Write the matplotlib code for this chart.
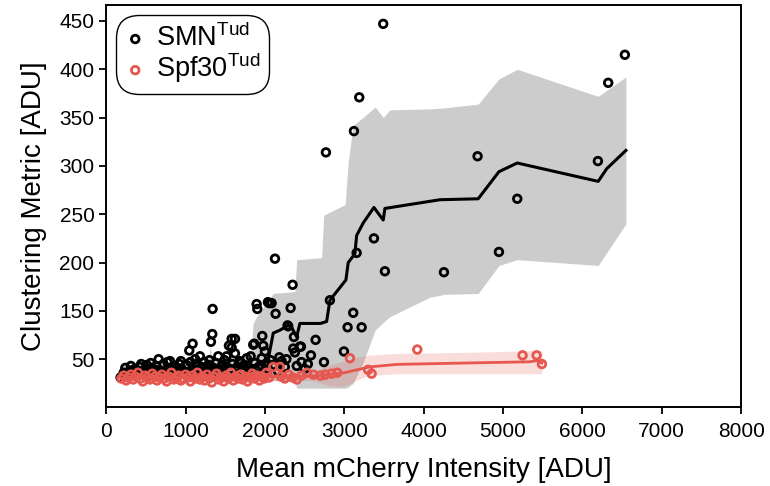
import matplotlib
matplotlib.use("Agg")
import matplotlib.pyplot as plt

# SMN Tudor domain: single cells
smn_x = [180, 220, 240, 260, 300, 310, 330, 360, 370, 390, 420, 440, 450, 480, 500, 510,
         540, 560, 570, 600, 620, 630, 660, 690, 700, 720, 750, 770, 780, 803, 830, 850,
         860, 890, 920, 940, 950, 980, 1010, 1030, 1046, 1060, 1088, 1100, 1120, 1130,
         1160, 1181, 1200, 1210, 1230, 1260, 1290, 1300, 1319, 1336, 1340, 1350, 1380,
         1400, 1411, 1430, 1460, 1480, 1490, 1517, 1546, 1560, 1580, 1580, 1590, 1622,
         1622, 1650, 1680, 1700, 1710, 1740, 1770, 1800, 1819, 1830, 1852, 1865, 1870,
         1895, 1903, 1920, 1950, 1958, 1966, 1978, 2000, 2021, 2037, 2040, 2054, 2070,
         2084, 2104, 2126, 2134, 2160, 2180, 2210, 2250, 2270, 2285, 2293, 2323, 2348,
         2356, 2365, 2377, 2400, 2440, 2453, 2460, 2500, 2540, 2579, 2638, 2743, 2768,
         2818, 2995, 3041, 3112, 3121, 3155, 3188, 3218, 3373, 3490, 3511, 4255, 4679,
         4948, 5179, 6195, 6325, 6535]
smn_y = [81, 86, 91, 84, 88, 93, 85, 90, 83, 87, 92, 95, 86, 89, 83, 94,
         87, 96, 91, 85, 89, 93, 100, 88, 84, 95, 86, 97, 91, 98, 89, 84,
         93, 87, 95, 98, 90, 86, 94, 85, 109, 97, 116, 90, 100, 95,
         88, 103, 92, 85, 97, 89, 94, 99, 118, 126, 152, 91, 96,
         86, 103, 88, 94, 90, 99, 103, 114, 90, 121, 112, 95, 121,
         106, 92, 98, 96, 88, 94, 101, 91, 103, 88, 115, 116, 96,
         157, 152, 92, 94, 101, 124, 114, 108, 96, 159, 90, 158, 99,
         158, 94, 204, 147, 88, 102, 98, 92, 100, 135, 134, 153, 177,
         111, 123, 107, 93, 113, 113, 97, 90, 95, 104, 120, 97, 314,
         161, 108, 133, 148, 336, 210, 371, 133, 225, 447, 191, 190, 310,
         211, 266, 305, 386, 415]

# Spf30 Tudor domain: single cells
spf_x = [190, 220, 250, 280, 310, 340, 370, 400, 430, 460, 490, 520, 550, 580, 610, 640,
         670, 700, 730, 760, 790, 820, 850, 880, 910, 940, 970, 1000, 1030, 1060, 1090,
         1120, 1150, 1180, 1210, 1240, 1270, 1300, 1330, 1360, 1390, 1420, 1450, 1480,
         1510, 1540, 1570, 1600, 1630, 1660, 1690, 1720, 1750, 1780, 1810, 1840, 1870,
         1900, 1930, 1960, 1990, 2020, 2050, 2104, 2188, 2200, 2250, 2300, 2350, 2400,
         2460, 2530, 2610, 2700, 2760, 2840, 2911, 3071, 3300, 3344, 3919, 5246, 5423,
         5490]
spf_y = [80, 83, 78, 81, 84, 79, 82, 86, 80, 77, 83, 81, 79, 85, 82, 78,
         81, 84, 80, 77, 82, 86, 79, 81, 83, 78, 80, 84, 81, 77, 83,
         80, 86, 79, 82, 78, 84, 80, 76, 82, 85, 79, 81, 77,
         83, 80, 86, 78, 82, 80, 84, 79, 82, 77, 81, 85, 80,
         83, 78, 82, 80, 86, 81, 92, 92, 82, 80, 84, 81, 79,
         83, 86, 84, 83, 84, 85, 86, 101, 89, 85, 110, 104, 104,
         95]

# running mean and spread
smn_line_x = [194, 340, 761, 1244, 1685, 1937, 2041, 2062, 2104, 2188, 2293, 2336, 2399,
              2440, 2700, 2777, 2818, 3020, 3049, 3133, 3155, 3238, 3373, 3490, 3511,
              4204, 4687, 4948, 5179, 6199, 6305, 6548]
smn_line_y = [85, 89, 90, 90, 92, 94, 99, 109, 127, 130, 135, 133, 123,
              137, 137, 139, 161, 182, 200, 209, 228, 241, 257, 244, 256,
              265, 266, 294, 303, 284, 297, 316]

smn_band_x = [194, 340, 761, 1244, 1290, 1307, 1330, 1400, 1685, 1820, 1850, 1895, 2104,
              2377, 2399, 2714, 2740, 3010, 3049, 3110, 3234, 3388, 3490, 3574, 4075,
              4255, 4687, 4948, 5179, 6199, 6548]
smn_band_lo = [80, 82, 82, 82, 80, 75, 80, 82, 81, 79, 78, 78, 78,
               78, 70, 70, 70, 70, 71, 75, 96, 130, 138, 144, 164,
               167, 168, 197, 203, 197, 240]
smn_band_hi = [93, 95, 96, 96, 100, 113, 100, 97, 99, 105, 137, 144, 168,
               170, 203, 205, 249, 260, 304, 342, 350, 361, 350, 358, 359,
               360, 364, 390, 400, 372, 392]

spf_line_x = [190, 800, 1500, 2200, 2700, 3000, 3319, 3659, 4500, 5338, 5423, 5490]
spf_line_y = [80, 81, 81, 82, 83, 86, 92, 94.6, 96, 97.3, 98.5, 96]

spf_band_x = [190, 1500, 2600, 2818, 3000, 3150, 3300, 3659, 4500, 5490]
spf_band_lo = [76, 77, 78, 72, 72, 78, 83, 85, 85, 85]
spf_band_hi = [85, 86, 87, 94, 98, 102, 104, 106, 107, 109]

ytick_pos = [100, 150, 200, 250, 300, 350, 400, 450]
ytick_labels = ["50", "150", "200", "250", "300", "350", "400", "450"]

red = "#e5574f"

plt.rcParams["font.family"] = ["Liberation Sans", "DejaVu Sans"]
plt.rcParams["mathtext.fontset"] = "custom"
plt.rcParams["mathtext.rm"] = "Liberation Sans"

fig = plt.figure(figsize=(7.7, 4.86), dpi=100)
ax = fig.add_axes([0.138, 0.1635, 0.8245, 0.8252])

ax.fill_between(smn_band_x, smn_band_lo, smn_band_hi, color="#cccccc", lw=0, zorder=1)
ax.scatter(smn_x, smn_y, s=30, facecolors="none", edgecolors="black", linewidths=2,
           zorder=2, label="SMN$^{\\mathrm{Tud}}$")
ax.plot(smn_line_x, smn_line_y, color="black", lw=2.2, zorder=3)
ax.fill_between(spf_band_x, spf_band_lo, spf_band_hi, color=red, alpha=0.2, lw=0, zorder=4)
ax.scatter(spf_x, spf_y, s=30, facecolors="none", edgecolors=red, linewidths=2,
           zorder=5, label="Spf30$^{\\mathrm{Tud}}$")
ax.plot(spf_line_x, spf_line_y, color=red, lw=2, zorder=6)

ax.set_xlim(0, 8000)
ax.set_ylim(51, 466)
ax.set_xticks(range(0, 8001, 1000))
ax.set_yticks(ytick_pos)
ax.set_yticklabels(ytick_labels)
ax.tick_params(labelsize=15, width=1.3, length=5)
ax.tick_params(axis="x", pad=6)
for s in ax.spines.values():
    s.set_linewidth(1.4)

ax.set_xlabel("Mean mCherry Intensity [ADU]", fontsize=20, labelpad=12)
ax.set_ylabel("Clustering Metric [ADU]", fontsize=20, labelpad=9)

leg = ax.legend(loc="upper left", fontsize=19.5, frameon=True, fancybox=True,
                edgecolor="black", framealpha=1, handletextpad=0.35,
                borderpad=0.12, labelspacing=-0.05, handlelength=0.8,
                borderaxespad=0.55)
leg.get_frame().set_linewidth(1.0)
leg.get_frame().set_boxstyle("round,pad=0.2,rounding_size=0.85")

fig.savefig("out.png", dpi=100, facecolor="white")
